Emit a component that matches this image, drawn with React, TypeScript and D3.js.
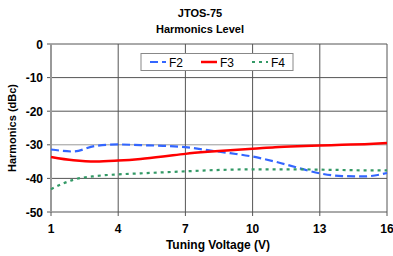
import React from 'react';
import * as d3 from 'd3';

// tuning voltage (V)
const volts = [1, 2, 3, 4, 5, 6, 7, 8, 9, 10, 11, 12, 13, 14, 15, 16];
const f2 = [-31.4, -32, -30.3, -29.9, -30.1, -30.3, -30.7, -31.6, -32.5, -33.5, -35, -36.8, -38.5, -39.3, -39.4, -38.4];
const f3 = [-33.6, -34.6, -35, -34.7, -34.2, -33.5, -32.7, -32.1, -31.6, -31.2, -30.7, -30.4, -30.2, -30, -29.8, -29.5];
const f4 = [-43.2, -40.4, -39.3, -38.8, -38.5, -38.2, -37.9, -37.6, -37.4, -37.3, -37.3, -37.3, -37.4, -37.5, -37.6, -37.6];
const xTicks = [1, 4, 7, 10, 13, 16];
const yTicks = [0, -10, -20, -30, -40, -50];

const series = [
  { name: 'F2', values: f2, color: '#3366ff', dash: '8,4', width: 2.2 },
  { name: 'F3', values: f3, color: '#ff0000', dash: null, width: 2.5 },
  { name: 'F4', values: f4, color: '#339966', dash: '3,4', width: 2.2 },
];

const App = () => {
  const width = 393;
  const height = 256;
  const left = 51;
  const right = 387;
  const top = 44;
  const bottom = 212;
  const font = 'Liberation Sans, Arial, sans-serif';

  const x = d3.scaleLinear().domain([1, 16]).range([left, right]);
  const y = d3.scaleLinear().domain([-50, 0]).range([bottom, top]);

  const line = d3.line<number>()
    .x((d, i) => x(volts[i]))
    .y((d) => y(d))
    .curve(d3.curveMonotoneX);

  return (
    <svg width={width} height={height} style={{ position: 'absolute', left: 0, top: 0 }} fontFamily={font}>
      <rect width={width} height={height} fill="#fff" />
      <text x={200} y={17} textAnchor="middle" fontSize={11} fontWeight="bold">JTOS-75</text>
      <text x={200} y={33} textAnchor="middle" fontSize={11} fontWeight="bold">Harmonics Level</text>

      {yTicks.map((t) => (
        <g key={'y' + t}>
          <line x1={left} x2={right} y1={y(t)} y2={y(t)} stroke={t === -30 ? '#999' : '#555'} strokeWidth={1} />
          <line x1={left - 4} x2={left} y1={y(t)} y2={y(t)} stroke="#555" />
          <text x={left - 8} y={y(t) + 4.5} textAnchor="end" fontSize={12} fontWeight="bold">{t}</text>
        </g>
      ))}
      {xTicks.map((t) => (
        <g key={'x' + t}>
          <line x1={x(t)} x2={x(t)} y1={top} y2={bottom} stroke={t === 1 ? '#999' : '#555'} strokeWidth={t === 1 ? 2 : 1} />
          <line x1={x(t)} x2={x(t)} y1={bottom} y2={bottom + 4} stroke="#555" />
          <text x={x(t)} y={bottom + 21} textAnchor="middle" fontSize={12} fontWeight="bold">{t}</text>
        </g>
      ))}

      {series.map((s) => (
        <path key={s.name} d={line(s.values) || ''} fill="none" stroke={s.color}
          strokeWidth={s.width} strokeDasharray={s.dash || undefined} />
      ))}

      <text x={218} y={249} textAnchor="middle" fontSize={12} fontWeight="bold">Tuning Voltage (V)</text>
      <text transform={`translate(16,${(top + bottom) / 2}) rotate(-90)`} textAnchor="middle" fontSize={11} fontWeight="bold">Harmonics (dBc)</text>

      <rect x={141} y={53.5} width={152} height={17} fill="#fff" stroke="#888" />
      {series.map((s, i) => (
        <g key={'l' + s.name} transform={`translate(${150 + i * 51},62)`}>
          <line x1={0} x2={16} y1={0} y2={0} stroke={s.color} strokeWidth={s.width} strokeDasharray={s.dash || undefined} />
          <text x={19} y={4.5} fontSize={12}>{s.name}</text>
        </g>
      ))}
    </svg>
  );
};

export default App;
